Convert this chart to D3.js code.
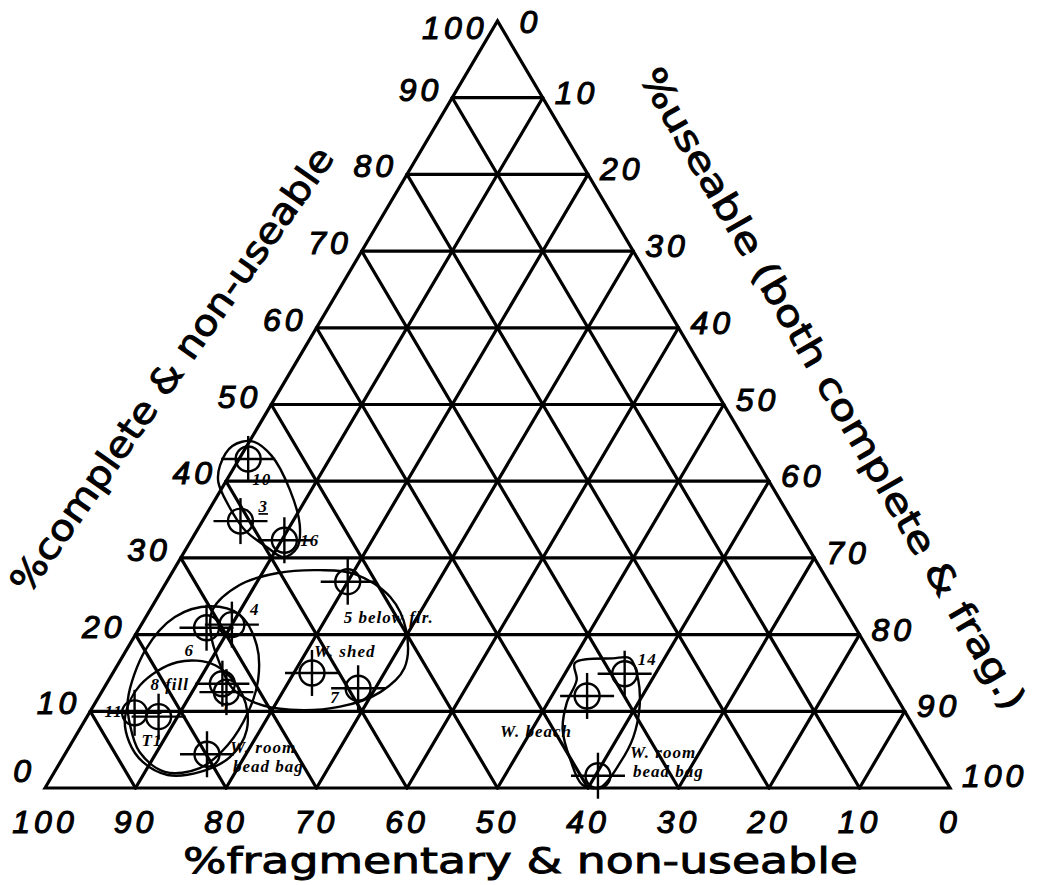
<!DOCTYPE html>
<html>
<head>
<meta charset="utf-8">
<script src="https://cdn.jsdelivr.net/npm/d3@7"></script>
<style>
  body { margin: 0; background: #fff; }
  svg { display: block; }
</style>
</head>
<body>
<div class="main"></div>
<script>
// tick values on each side of the triangle
var levels = [0, 10, 20, 30, 40, 50, 60, 70, 80, 90, 100];

// samples: % complete & non-useable, % fragmentary & non-useable
var sampleNames = ["10", "3", "16", "5 below flr.", "6", "4", "8 fill", "1", "W.  shed", "7",
                   "11", "T1", "W. room|bead bag", "14", "W. beach", "W. room|bead bag"];
var completePct = [42.9, 34.8, 32.3, 26.9, 20.9, 21.3, 13.6, 12.5, 15.0, 13.0,
                   9.8, 9.3, 4.4, 14.9, 12.0, 1.6];
var fragPct     = [56.1, 61.0, 57.4, 53.1, 71.7, 68.7, 73.6, 73.7, 63.0, 58.9,
                   85.2, 82.8, 79.9, 28.5, 34.1, 38.1];

// hand-drawn group envelopes, as [complete, fragmentary]
var envTop = [[42.1,59.6],[44.6,57.0],[45.2,54.5],[43.3,53.3],[38.9,53.5],[34.3,54.7],
              [31.3,56.5],[30.1,58.6],[31.3,59.7],[33.6,61.1],[36.9,61.3],[39.9,60.9]];
var envMid = [[23.2,69.9],[26.5,65.2],[28.0,60.4],[28.4,55.4],[27.9,51.8],[24.9,49.4],
              [20.6,49.8],[15.6,52.5],[12.5,56.7],[10.6,62.1],[10.2,67.8],[11.1,71.2],
              [13.0,72.8],[16.7,72.5],[19.9,71.7]];
var envLeftA = [[11.5,85.1],[18.0,79.9],[22.3,74.5],[23.7,69.9],[22.6,67.2],[18.6,67.3],
                [14.1,69.4],[9.9,72.6],[5.6,77.0],[2.6,81.6],[2.1,85.7],[4.7,87.2],[8.2,86.5]];
var envLeftB = [[9.3,86.5],[13.4,82.8],[16.4,77.2],[16.0,73.2],[12.1,72.1],[7.6,73.9],
                [4.0,77.6],[2.1,81.8],[1.7,85.6],[3.4,87.5],[6.0,87.7]];
var envRight = [[16.9,28.8],[16.9,26.9],[14.1,27.4],[10.6,29.0],[6.6,31.7],[3.3,34.8],
                [0.1,38.6],[0.4,40.4],[3.7,40.1],[7.6,39.0],[11.1,36.8],[14.1,34.2],[16.3,33.3]];

// label placement relative to each marker (layout only)
var labelOffset = [[4,26],[18,-9],[16,6],[-4,41],[-22,28],[18,-10],[-72,6],[-5,21],[2,-16],[-28,15],
                   [-30,4],[-17,29],[23,-1],[13,-9],[-87,41],[32,-18]];

const width = 1038, height = 885;

var svg = d3.select(".main").append("svg")
    .attr("width", width)
    .attr("height", height);

var xs = d3.scaleLinear().domain([0, 100]).range([45, 950]);
var ys = d3.scaleLinear().domain([0, 100]).range([788, 21]);

// complete (c) is the height, useable = 100 - c - f
function proj(c, f) {
    var u = 100 - c - f;
    return [xs(u + c / 2), ys(c)];
}

var grid = svg.append("g")
    .attr("stroke", "black")
    .attr("stroke-width", 3.2)
    .attr("stroke-linecap", "round")
    .attr("fill", "none");

// horizontal lines (constant complete)
levels.slice(1, -1).forEach(function(v) {
    var a = proj(v, 100 - v), b = proj(v, 0);
    grid.append("line").attr("x1", a[0]).attr("y1", a[1]).attr("x2", b[0]).attr("y2", b[1]);
});
// constant fragmentary
levels.slice(1, -1).forEach(function(v) {
    var a = proj(0, v), b = proj(100 - v, v);
    grid.append("line").attr("x1", a[0]).attr("y1", a[1]).attr("x2", b[0]).attr("y2", b[1]);
});
// constant useable
levels.slice(1, -1).forEach(function(v) {
    var a = proj(0, 100 - v), b = proj(100 - v, 0);
    grid.append("line").attr("x1", a[0]).attr("y1", a[1]).attr("x2", b[0]).attr("y2", b[1]);
});
// outline
grid.append("path")
    .attr("d", d3.line()([proj(0, 100), proj(100, 0), proj(0, 0)]) + "Z")
    .attr("stroke-linejoin", "miter");

var numFont = "'Liberation Sans', Arial, sans-serif";

function numStyle(sel) {
    sel.style("font-family", numFont)
       .style("font-style", "italic")
       .style("font-size", "32px")
       .style("letter-spacing", "4px")
       .attr("stroke", "black")
       .attr("stroke-width", 1.1);
}

// left axis labels (complete & non-useable)
svg.selectAll(".lefttick")
    .data(levels)
    .enter()
    .append("text")
    .attr("class", "lefttick")
    .attr("x", function(d) { return proj(d, 100 - d)[0] - 10; })
    .attr("y", function(d) { return proj(d, 100 - d)[1] + (d == 100 ? 18 : d == 0 ? -6 : 3); })
    .attr("text-anchor", "end")
    .call(numStyle)
    .text(function(d) { return d; });

// right axis labels (useable)
svg.selectAll(".righttick")
    .data(levels)
    .enter()
    .append("text")
    .attr("class", "righttick")
    .attr("x", function(d) { return proj(d, 0)[0] + (d == 100 ? 22 : 12); })
    .attr("y", function(d) { return proj(d, 0)[1] + (d == 100 ? 12 : d == 0 ? -1 : 6); })
    .call(numStyle)
    .text(function(d) { return 100 - d; });

// bottom axis labels (fragmentary)
svg.selectAll(".bottick")
    .data(levels)
    .enter()
    .append("text")
    .attr("class", "bottick")
    .attr("x", function(d) { return proj(0, d)[0]; })
    .attr("y", 833)
    .attr("text-anchor", "middle")
    .call(numStyle)
    .text(function(d) { return d; });

// axis titles
function titleStyle(sel) {
    sel.style("font-family", "'DejaVu Sans', sans-serif")
       .style("font-size", "36px")
       .attr("lengthAdjust", "spacingAndGlyphs")
       .attr("stroke", "black")
       .attr("stroke-width", 0.9);
}

svg.append("text")
    .attr("x", 183)
    .attr("y", 873)
    .attr("textLength", 675)
    .call(titleStyle)
    .text("%fragmentary & non-useable");

svg.append("text")
    .attr("transform", "translate(182,377) rotate(-55)")
    .attr("text-anchor", "middle")
    .attr("textLength", 535)
    .call(titleStyle)
    .text("%complete & non-useable");

svg.append("text")
    .attr("transform", "translate(822,395) rotate(60)")
    .attr("text-anchor", "middle")
    .attr("textLength", 735)
    .call(titleStyle)
    .text("%useable (both complete & frag.)");

// envelopes
var envLine = d3.line()
    .x(function(d) { return proj(d[0], d[1])[0]; })
    .y(function(d) { return proj(d[0], d[1])[1]; })
    .curve(d3.curveCatmullRomClosed);

svg.selectAll(".env")
    .data([envTop, envMid, envLeftA, envLeftB, envRight])
    .enter()
    .append("path")
    .attr("class", "env")
    .attr("d", envLine)
    .attr("fill", "none")
    .attr("stroke", "black")
    .attr("stroke-width", 2.4);

// markers
var samples = sampleNames.map(function(n, i) {
    var p = proj(completePct[i], fragPct[i]);
    return {name: n, x: p[0], y: p[1], off: labelOffset[i]};
});

var mk = svg.selectAll(".marker")
    .data(samples)
    .enter()
    .append("g")
    .attr("class", "marker")
    .attr("transform", function(d) { return "translate(" + d.x + "," + d.y + ")"; })
    .attr("stroke", "black")
    .attr("stroke-width", 2.4)
    .attr("fill", "none");

mk.append("circle").attr("r", 12.5);
mk.append("line").attr("x1", -27).attr("x2", 27).attr("y1", 0).attr("y2", 0);
mk.append("line").attr("x1", 0).attr("x2", 0).attr("y1", -23).attr("y2", 23);

var lab = svg.selectAll(".lab")
    .data(samples)
    .enter()
    .append("text")
    .attr("class", "lab")
    .attr("x", function(d) { return d.x + d.off[0]; })
    .attr("y", function(d) { return d.y + d.off[1]; })
    .style("font-family", "'Liberation Serif', 'Times New Roman', serif")
    .style("font-style", "italic")
    .style("font-weight", "bold")
    .style("font-size", "17px")
    .style("letter-spacing", "1px")
    .style("text-decoration", function(d) { return d.name == "3" ? "underline" : null; });

lab.selectAll("tspan")
    .data(function(d) { return d.name.split("|").map(function(t, k) { return {t: t, x: d.x + d.off[0] + k * 3, k: k}; }); })
    .enter()
    .append("tspan")
    .attr("x", function(d) { return d.x; })
    .attr("dy", function(d) { return d.k ? 19 : 0; })
    .text(function(d) { return d.t; });
</script>
</body>
</html>
